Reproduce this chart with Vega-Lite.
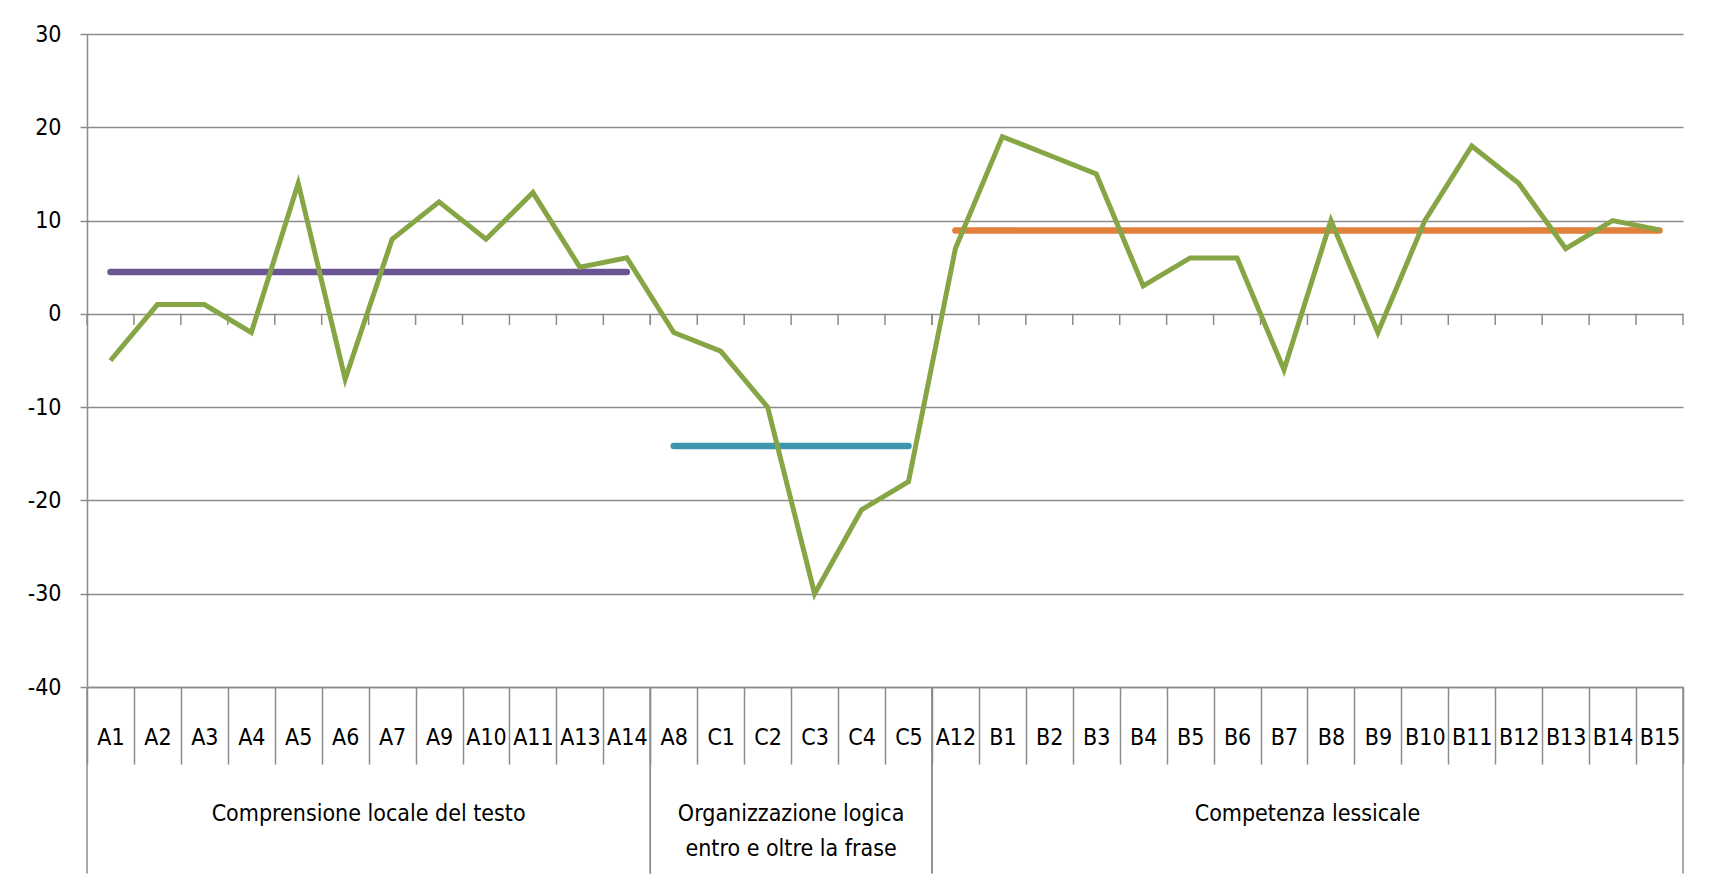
{
  "$schema": "https://vega.github.io/schema/vega-lite/v6.json",
  "autosize": "none",
  "width": 1596,
  "height": 653,
  "padding": {"left": 87, "top": 34, "right": 36, "bottom": 209},
  "background": "white",
  "config": {
    "view": {"stroke": null},
    "font": "DejaVu Sans Condensed, Liberation Sans, sans-serif",
    "axis": {"labelFont": "DejaVu Sans Condensed, Liberation Sans, sans-serif", "labelColor": "#000000"}
  },
  "datasets": {
    "items": [
      {"cat": "A1", "group": "Comprensione locale del testo", "value": -5},
      {"cat": "A2", "group": "Comprensione locale del testo", "value": 1},
      {"cat": "A3", "group": "Comprensione locale del testo", "value": 1},
      {"cat": "A4", "group": "Comprensione locale del testo", "value": -2},
      {"cat": "A5", "group": "Comprensione locale del testo", "value": 14},
      {"cat": "A6", "group": "Comprensione locale del testo", "value": -7},
      {"cat": "A7", "group": "Comprensione locale del testo", "value": 8},
      {"cat": "A9", "group": "Comprensione locale del testo", "value": 12},
      {"cat": "A10", "group": "Comprensione locale del testo", "value": 8},
      {"cat": "A11", "group": "Comprensione locale del testo", "value": 13},
      {"cat": "A13", "group": "Comprensione locale del testo", "value": 5},
      {"cat": "A14", "group": "Comprensione locale del testo", "value": 6},
      {"cat": "A8", "group": "Organizzazione logica entro e oltre la frase", "value": -2},
      {"cat": "C1", "group": "Organizzazione logica entro e oltre la frase", "value": -4},
      {"cat": "C2", "group": "Organizzazione logica entro e oltre la frase", "value": -10},
      {"cat": "C3", "group": "Organizzazione logica entro e oltre la frase", "value": -30},
      {"cat": "C4", "group": "Organizzazione logica entro e oltre la frase", "value": -21},
      {"cat": "C5", "group": "Organizzazione logica entro e oltre la frase", "value": -18},
      {"cat": "A12", "group": "Competenza lessicale", "value": 7},
      {"cat": "B1", "group": "Competenza lessicale", "value": 19},
      {"cat": "B2", "group": "Competenza lessicale", "value": 17},
      {"cat": "B3", "group": "Competenza lessicale", "value": 15},
      {"cat": "B4", "group": "Competenza lessicale", "value": 3},
      {"cat": "B5", "group": "Competenza lessicale", "value": 6},
      {"cat": "B6", "group": "Competenza lessicale", "value": 6},
      {"cat": "B7", "group": "Competenza lessicale", "value": -6},
      {"cat": "B8", "group": "Competenza lessicale", "value": 10},
      {"cat": "B9", "group": "Competenza lessicale", "value": -2},
      {"cat": "B10", "group": "Competenza lessicale", "value": 10},
      {"cat": "B11", "group": "Competenza lessicale", "value": 18},
      {"cat": "B12", "group": "Competenza lessicale", "value": 14},
      {"cat": "B13", "group": "Competenza lessicale", "value": 7},
      {"cat": "B14", "group": "Competenza lessicale", "value": 10},
      {"cat": "B15", "group": "Competenza lessicale", "value": 9}
    ],
    "groups": [
      {"group": "Comprensione locale del testo", "label": "Comprensione locale del testo", "first": "A1", "mid": "A7", "last": "A14"},
      {"group": "Organizzazione logica entro e oltre la frase", "label": "Organizzazione logica\nentro e oltre la frase", "first": "A8", "mid": "C3", "last": "C5"},
      {"group": "Competenza lessicale", "label": "Competenza lessicale", "first": "A12", "mid": "B8", "last": "B15"}
    ]
  },
  "encoding": {
    "x": {
      "field": "cat",
      "type": "nominal",
      "sort": ["A1","A2","A3","A4","A5","A6","A7","A9","A10","A11","A13","A14","A8","C1","C2","C3","C4","C5","A12","B1","B2","B3","B4","B5","B6","B7","B8","B9","B10","B11","B12","B13","B14","B15"],
      "scale": {"type": "band", "paddingInner": 0, "paddingOuter": 0,
        "domain": ["A1","A2","A3","A4","A5","A6","A7","A9","A10","A11","A13","A14","A8","C1","C2","C3","C4","C5","A12","B1","B2","B3","B4","B5","B6","B7","B8","B9","B10","B11","B12","B13","B14","B15"]}
    }
  },
  "layer": [
    {
      "data": {"name": "items"},
      "mark": {"type": "rule", "color": "#8c8c8c", "strokeWidth": 1.5},
      "encoding": {
        "x": {"field": "cat", "type": "nominal", "bandPosition": 0,
          "axis": {
            "orient": "bottom", "title": null, "tickBand": "extent", "tickSize": 77, "tickColor": "#8c8c8c", "tickWidth": 1.5,
            "domainColor": "#8c8c8c", "domainWidth": 1.5, "labelAngle": 0, "labelFontSize": 23, "labelBaseline": "middle",
            "labelPadding": -27, "labelColor": "#000000"
          }
        },
        "y": {"datum": 0, "type": "quantitative",
          "scale": {"domain": [-40, 30], "nice": false, "zero": false},
          "axis": {
            "title": null, "values": [-40, -30, -20, -10, 0, 10, 20, 30], "grid": true, "gridColor": "#8c8c8c", "gridWidth": 1.5,
            "domainColor": "#8c8c8c", "domainWidth": 1.5, "tickColor": "#8c8c8c", "tickWidth": 1.5, "tickSize": 7,
            "labelFontSize": 23, "labelPadding": 19, "labelColor": "#000000", "labelExpr": "datum.value + ''"
          }
        },
        "y2": {"datum": -1.2}
      }
    },
    {
      "data": {"name": "groups"},
      "mark": {"type": "rule", "color": "#8c8c8c", "strokeWidth": 1.5, "clip": false},
      "encoding": {
        "x": {"field": "first", "type": "nominal", "bandPosition": 0},
        "y": {"datum": -40, "type": "quantitative"},
        "y2": {"datum": -60}
      }
    },
    {
      "data": {"name": "groups"},
      "mark": {"type": "rule", "color": "#8c8c8c", "strokeWidth": 1.5, "clip": false},
      "encoding": {
        "x": {"field": "last", "type": "nominal", "bandPosition": 1},
        "y": {"datum": -40, "type": "quantitative"},
        "y2": {"datum": -60}
      }
    },
    {
      "data": {"name": "groups"},
      "mark": {"type": "rule", "color": "#8c8c8c", "strokeWidth": 1.5, "clip": false},
      "encoding": {
        "x": {"field": "last", "type": "nominal", "bandPosition": 1},
        "y": {"datum": 0, "type": "quantitative"},
        "y2": {"datum": -1.2}
      }
    },
    {
      "data": {"name": "groups"},
      "mark": {"type": "text", "fontSize": 23, "align": "center", "baseline": "alphabetic", "lineBreak": "\n", "lineHeight": 35, "color": "#000000", "clip": false},
      "encoding": {
        "x": {"field": "mid", "type": "nominal", "bandPosition": 0},
        "y": {"datum": -54.4, "type": "quantitative"},
        "text": {"field": "label"}
      }
    },
    {
      "data": {"name": "items"},
      "transform": [
        {"joinaggregate": [{"op": "mean", "field": "value", "as": "mean"}], "groupby": ["group"]}
      ],
      "mark": {"type": "line", "strokeWidth": 6.5, "strokeCap": "round"},
      "encoding": {
        "x": {"field": "cat", "type": "nominal"},
        "y": {"field": "mean", "type": "quantitative"},
        "detail": {"field": "group"},
        "color": {
          "field": "group", "type": "nominal", "legend": null,
          "scale": {
            "domain": ["Comprensione locale del testo", "Organizzazione logica entro e oltre la frase", "Competenza lessicale"],
            "range": ["#6b5494", "#3e95ae", "#e0803a"]
          }
        }
      }
    },
    {
      "data": {"name": "items"},
      "mark": {"type": "line", "strokeWidth": 5, "color": "#86a646", "strokeJoin": "miter", "strokeCap": "butt"},
      "encoding": {
        "x": {"field": "cat", "type": "nominal"},
        "y": {"field": "value", "type": "quantitative"}
      }
    }
  ]
}
